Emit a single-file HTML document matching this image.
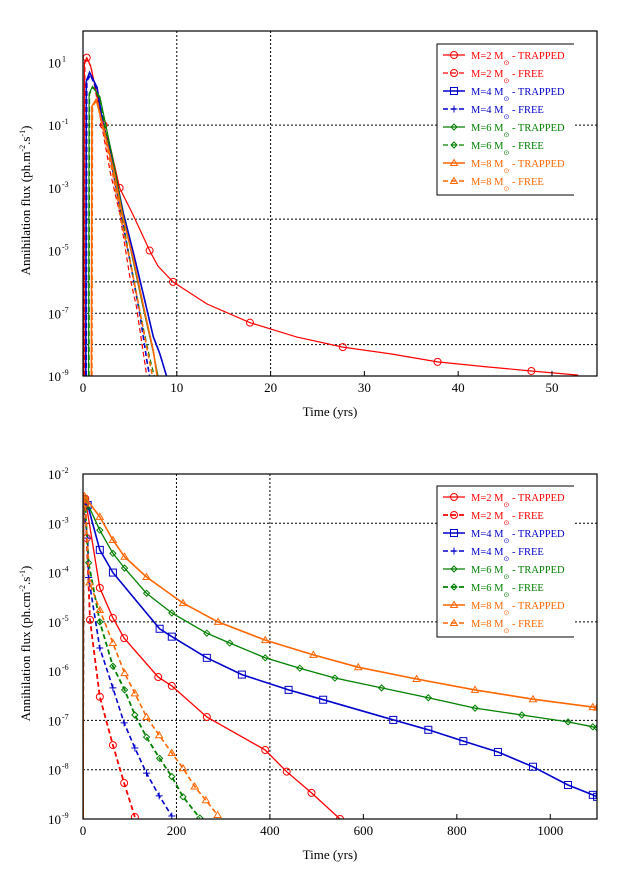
<!DOCTYPE html>
<html><head><meta charset="utf-8"><style>
body{margin:0;background:#fff;}
svg{display:block;font-family:"Liberation Serif",serif;}
</style></head><body>
<svg id="chart" width="622" height="883" viewBox="0 0 622 883" xmlns="http://www.w3.org/2000/svg"></svg>
<script>
// ---------- TOP CHART DATA (time in yrs, log10 flux) ----------
const topXTicks=[0,10,20,30,40,50];
const topYTickExp=[1,-1,-3,-5,-7,-9];
const topYGridExp=[-1,-4,-6,-7,-8];
const topXGrid=[10,20];
const top_t_red_tr=[0.1,0.15,0.4,0.8,2.2,3.0,3.9,5.4,7.1,8.0,9.6,13.2,17.8,22.8,27.7,32.9,37.8,42.8,47.8,52.8];
const top_v_red_tr=[-9,1.0,1.15,0.9,-1.0,-1.8,-3.0,-3.9,-5.0,-5.5,-6.0,-6.7,-7.3,-7.76,-8.08,-8.3,-8.55,-8.7,-8.84,-8.97];
const top_t_red_fr=[0.15,0.2,0.5,0.9,2.9,3.9,5.0,5.7,6.4,6.8];
const top_v_red_fr=[-9,1.0,1.1,0.8,-2.5,-3.8,-5.85,-6.8,-8.2,-9];
const top_t_blu_tr=[0.3,0.35,0.7,1.5,2.2,3.0,4.3,5.4,6.4,7.5,8.2,8.9];
const top_v_blu_tr=[-9,0.4,0.68,0.2,-1.1,-1.9,-3.8,-5.1,-6.35,-7.75,-8.3,-9];
const top_t_blu_fr=[0.35,0.4,0.8,1.5,2.9,4.3,5.4,6.1,6.8,7.1];
const top_v_blu_fr=[-9,0.4,0.6,0.1,-2.0,-4.2,-5.95,-7.1,-8.5,-9];
const top_t_grn_tr=[0.6,0.65,1.0,1.8,3.2,4.3,5.4,6.4,7.5,8.0];
const top_v_grn_tr=[-9,0.0,0.23,-0.1,-2.1,-3.9,-5.4,-6.8,-8.25,-9];
const top_t_grn_fr=[0.65,0.7,1.1,1.8,3.0,4.2,5.2,6.1,7.1,7.6];
const top_v_grn_fr=[-9,0.0,0.2,-0.2,-2.1,-4.0,-5.6,-7.0,-8.4,-9];
const top_t_org_tr=[0.9,0.95,1.4,2.2,3.3,4.3,5.4,6.4,7.5,7.9];
const top_v_org_tr=[-9,-0.4,-0.18,-1.1,-2.5,-4.0,-5.3,-6.7,-8.2,-9];
const top_t_org_fr=[0.95,1.0,1.5,2.2,3.2,4.2,5.2,6.1,7.0,7.4];
const top_v_org_fr=[-9,-0.4,-0.2,-1.2,-2.6,-4.2,-5.6,-7.0,-8.4,-9];
// ---------- BOTTOM CHART DATA ----------
const botXTicks=[0,200,400,600,800,1000];
const botYTickExp=[-2,-3,-4,-5,-6,-7,-8,-9];
const botYGridExp=[-3,-5,-7,-8];
const botXGrid=[200,400];
const bot_t_red_tr=[0,1,5,36,64,88,161,190,265,390,436,489,550];
const bot_v_red_tr=[-9,-2.5,-2.5,-4.31,-4.92,-5.33,-6.12,-6.3,-6.93,-7.6,-8.04,-8.47,-9];
const bot_t_red_fr=[0,1,5,8,15,36,64,88,111];
const bot_v_red_fr=[-9,-2.6,-2.6,-3.3,-4.96,-6.52,-7.5,-8.27,-8.96];
const bot_t_blu_tr=[0,1,10,36,64,164,190,265,340,440,514,664,739,814,888,963,1038,1091,1100];
const bot_v_blu_tr=[-9,-2.6,-2.63,-3.54,-4.0,-5.14,-5.3,-5.73,-6.07,-6.38,-6.58,-6.99,-7.19,-7.42,-7.64,-7.94,-8.31,-8.51,-8.55];
const bot_t_blu_fr=[0,1,10,12,36,64,88,111,136,163,190];
const bot_v_blu_fr=[-9,-2.7,-3.3,-4.1,-5.53,-6.34,-7.05,-7.56,-8.07,-8.53,-8.94];
const bot_t_grn_tr=[0,1,5,36,64,89,136,190,265,314,390,464,539,639,739,839,939,1038,1091,1100];
const bot_v_grn_tr=[-9,-2.5,-2.5,-3.14,-3.61,-3.91,-4.42,-4.82,-5.23,-5.43,-5.73,-5.94,-6.14,-6.34,-6.54,-6.75,-6.89,-7.03,-7.13,-7.15];
const bot_t_grn_fr=[0,1,5,12,36,64,89,111,136,164,190,214,250];
const bot_v_grn_fr=[-9,-2.6,-2.7,-3.8,-5.0,-5.9,-6.38,-6.89,-7.34,-7.77,-8.14,-8.55,-8.98];
const bot_t_org_tr=[0,1,3,36,64,89,136,214,289,390,493,589,714,839,963,1091,1100];
const bot_v_org_tr=[-9,-2.45,-2.45,-2.87,-3.34,-3.68,-4.09,-4.62,-5.0,-5.37,-5.67,-5.92,-6.16,-6.38,-6.57,-6.73,-6.74];
const bot_t_org_fr=[0,1,5,14,36,64,89,111,136,163,190,214,239,263,288];
const bot_v_org_fr=[-9,-2.5,-2.6,-4.2,-4.76,-5.43,-6.04,-6.45,-6.93,-7.3,-7.66,-7.97,-8.34,-8.62,-8.92];

const legendLabels=["M=2 M","M=2 M","M=4 M","M=4 M","M=6 M","M=6 M","M=8 M","M=8 M"];
const legendKinds=["TRAPPED","FREE","TRAPPED","FREE","TRAPPED","FREE","TRAPPED","FREE"];

const NS="http://www.w3.org/2000/svg";
const svg=document.getElementById('chart');
function mk(tag,attrs,parent){const e=document.createElementNS(NS,tag);for(const k in attrs)e.setAttribute(k,attrs[k]);(parent||svg).appendChild(e);return e;}
const RED="#ff0000",BLU="#0000cc",GRN="#008000",ORG="#ff6600";

function marker(g,kind,x,y,col){
  let e;
  if(kind==='o'){e=mk('circle',{cx:x,cy:y,r:3.5,fill:'none',stroke:col,'stroke-width':1},g);}
  else if(kind==='s'){e=mk('rect',{x:x-3.5,y:y-3.5,width:7,height:7,fill:'none',stroke:col,'stroke-width':1},g);}
  else if(kind==='+'){e=mk('path',{d:`M${x-3.5} ${y}H${x+3.5}M${x} ${y-3.5}V${y+3.5}`,stroke:col,'stroke-width':1,fill:'none'},g);}
  else if(kind==='d'){e=mk('path',{d:`M${x} ${y-3}L${x+3} ${y}L${x} ${y+3}L${x-3} ${y}Z`,stroke:col,'stroke-width':1,fill:'none'},g);}
  else {e=mk('path',{d:`M${x} ${y-3.5}L${x+3.5} ${y+2.5}L${x-3.5} ${y+2.5}Z`,stroke:col,'stroke-width':1,fill:'none'},g);}
  
  
}

function drawChart(cfg){
  const {L,R,T,B,xmax,ymin,ymax,prefix}=cfg;
  const sx=v=>L+(v/xmax)*(R-L);
  const sy=v=>B-(v-ymin)/(ymax-ymin)*(B-T);
  const g=mk('g',{});
  
  
  cfg.yGrid.forEach(e=>{const l=mk('line',{x1:L,x2:R,y1:sy(e),y2:sy(e),stroke:'#000','stroke-width':1,'stroke-dasharray':'2,2'},g);
    });
  cfg.xGrid.forEach(v=>{const l=mk('line',{x1:sx(v),x2:sx(v),y1:T,y2:B,stroke:'#000','stroke-width':1,'stroke-dasharray':'2,2'},g);
    });
  const clip=mk('clipPath',{id:prefix+'clip'},g);mk('rect',{x:L,y:T,width:R-L,height:B-T},clip);
  const sg=mk('g',{'clip-path':`url(#${prefix}clip)`},g);
  cfg.series.forEach(s=>{
    const pts=s.t.map((t,i)=>sx(t).toFixed(1)+','+sy(s.v[i]).toFixed(1)).join(' ');
    const p=mk('polyline',{points:pts,fill:'none',stroke:s.c,'stroke-width':s.w,'stroke-dasharray':s.dash?'5,3':'none'},sg);
    
    
    s.t.forEach((t,i)=>{if(i>=2&&i%s.every===0)marker(sg,s.m,sx(t),sy(s.v[i]),s.c);});
  });
  const lx=cfg.legX,ly=cfg.legY;
  const lg=mk('g',{},g);
  
  
  mk('rect',{x:lx,y:ly,width:137,height:151,fill:'#fff',stroke:'none'},lg);
  mk('path',{d:`M${lx+137} ${ly}H${lx}V${ly+151}H${lx+137}`,fill:'none',stroke:'#000','stroke-width':1},lg);
  cfg.series.forEach((s,i)=>{
    const y=ly+11+i*18;
    const ent=mk('g',{},lg);
    
    
    mk('line',{x1:lx+6,x2:lx+28,y1:y,y2:y,stroke:s.c,'stroke-width':s.w,'stroke-dasharray':s.dash?'5,3':'none'},ent);
    marker(ent,s.m,lx+17,y,s.c);
    const tx=mk('text',{x:lx+34,y:y+4,'font-size':10.5,fill:s.c},ent);
    tx.textContent=legendLabels[i];
    const sub=mk('tspan',{dy:6,'font-size':7},tx);sub.textContent='\u2299';
    const rest=mk('tspan',{dy:-6,'font-size':10.5},tx);rest.textContent=' - '+legendKinds[i];
  });
  const f=mk('rect',{x:L,y:T,width:R-L,height:B-T,fill:'none',stroke:'#000','stroke-width':1.2},g);
  
  cfg.xTicks.forEach(v=>{
    mk('line',{x1:sx(v),x2:sx(v),y1:B,y2:B-5,stroke:'#000'},g);
    const t=mk('text',{x:sx(v),y:B+16,'text-anchor':'middle','font-size':13},g);
    t.textContent=v;
  });
  cfg.yTicks.forEach(e=>{
    const t=mk('text',{x:L-22,y:sy(e)+5,'text-anchor':'end','font-size':13},g);
    t.textContent='10';
    const sp=mk('text',{x:L-21,y:sy(e)-1,'font-size':8},g);sp.textContent=e;
    
  });
  const xt=mk('text',{x:(L+R)/2-10,y:B+40,'text-anchor':'middle','font-size':13},g);
  xt.textContent='Time (yrs)';
  const yt=mk('text',{x:0,y:0,'text-anchor':'middle','font-size':13,transform:`translate(30,${(T+B)/2-3}) rotate(-90)`},g);
  
  yt.textContent='Annihilation flux ('+cfg.unit+'m';
  let a=mk('tspan',{dy:-5,'font-size':8},yt);a.textContent='-2';
  let b=mk('tspan',{dy:5},yt);b.textContent='.s';
  let c=mk('tspan',{dy:-5,'font-size':8},yt);c.textContent='-1';
  let d=mk('tspan',{dy:5},yt);d.textContent=')';
}

drawChart({prefix:'top',L:83,R:597,T:31,B:376,xmax:54.8,ymin:-9,ymax:2,unit:'ph.',
  xTicks:topXTicks,yTicks:topYTickExp,yGrid:topYGridExp,xGrid:topXGrid,legX:437,legY:44,
  series:[
   {name:'m2-trapped-line',t:top_t_red_tr,v:top_v_red_tr,c:RED,w:1.2,dash:false,m:'o',every:2},
   {name:'m2-free-line',t:top_t_red_fr,v:top_v_red_fr,c:RED,w:1.2,dash:true,m:'o',every:20},
   {name:'m4-trapped-line',t:top_t_blu_tr,v:top_v_blu_tr,c:BLU,w:1.6,dash:false,m:'s',every:20},
   {name:'m4-free-line',t:top_t_blu_fr,v:top_v_blu_fr,c:BLU,w:1.6,dash:true,m:'+',every:20},
   {name:'m6-trapped-line',t:top_t_grn_tr,v:top_v_grn_tr,c:GRN,w:1.2,dash:false,m:'d',every:20},
   {name:'m6-free-line',t:top_t_grn_fr,v:top_v_grn_fr,c:GRN,w:1.2,dash:true,m:'d',every:20},
   {name:'m8-trapped-line',t:top_t_org_tr,v:top_v_org_tr,c:ORG,w:1.6,dash:false,m:'^',every:20},
   {name:'m8-free-line',t:top_t_org_fr,v:top_v_org_fr,c:ORG,w:1.6,dash:true,m:'^',every:20}]});

drawChart({prefix:'bot',L:83,R:597,T:474,B:819,xmax:1100,ymin:-9,ymax:-2,unit:'ph.c',
  xTicks:botXTicks,yTicks:botYTickExp,yGrid:botYGridExp,xGrid:botXGrid,legX:437,legY:486,
  series:[
   {name:'m2-trapped-line',t:bot_t_red_tr,v:bot_v_red_tr,c:RED,w:1.3,dash:false,m:'o',every:1},
   {name:'m2-free-line',t:bot_t_red_fr,v:bot_v_red_fr,c:RED,w:1.8,dash:true,m:'o',every:1},
   {name:'m4-trapped-line',t:bot_t_blu_tr,v:bot_v_blu_tr,c:BLU,w:1.6,dash:false,m:'s',every:1},
   {name:'m4-free-line',t:bot_t_blu_fr,v:bot_v_blu_fr,c:BLU,w:1.6,dash:true,m:'+',every:1},
   {name:'m6-trapped-line',t:bot_t_grn_tr,v:bot_v_grn_tr,c:GRN,w:1.3,dash:false,m:'d',every:1},
   {name:'m6-free-line',t:bot_t_grn_fr,v:bot_v_grn_fr,c:GRN,w:1.8,dash:true,m:'d',every:1},
   {name:'m8-trapped-line',t:bot_t_org_tr,v:bot_v_org_tr,c:ORG,w:1.6,dash:false,m:'^',every:1},
   {name:'m8-free-line',t:bot_t_org_fr,v:bot_v_org_fr,c:ORG,w:1.6,dash:true,m:'^',every:1}]});
</script>
</body></html>
